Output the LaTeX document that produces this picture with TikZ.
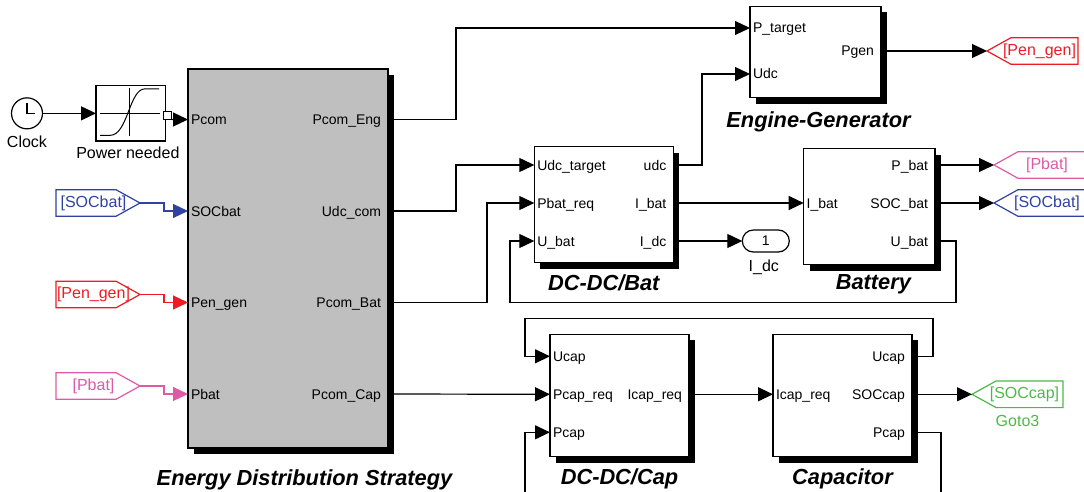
\documentclass[tikz,border=0pt]{standalone}
\usepackage{fontspec}
\setmainfont{Liberation Sans}
\usetikzlibrary{positioning,arrows.meta,shadows,shapes.symbols,shapes.misc}
\definecolor{tagblue}{HTML}{2F429F}
\definecolor{tagred}{HTML}{ED1C24}
\definecolor{tagpink}{HTML}{DC5AA6}
\definecolor{taggreen}{HTML}{4DB848}
\newcommand{\fromtext}[1]{\makebox[0pt]{\hspace*{15pt}#1}}
\newcommand{\gototext}[1]{\makebox[0pt]{#1\hspace*{10pt}}}
\tikzset{
	block/.style={draw,fill=white,line width=1.2pt,inner sep=0pt,outer sep=0pt,
		drop shadow={fill=black,opacity=1,shadow xshift=6pt,shadow yshift=-6pt}},
	portin/.style={inner sep=0pt,inner xsep=3pt,outer sep=0pt,text height=10pt,text depth=0pt,font=\fontsize{14}{16}\selectfont},
	portout/.style={portin,inner xsep=7pt},
	title/.style={inner sep=0pt,font=\fontsize{21.8}{24}\selectfont\bfseries\itshape},
	caption/.style={inner sep=0pt,font=\fontsize{16}{18}\selectfont},
	sig/.style={draw,line width=1.2pt,-{Triangle[length=15pt,width=14pt]}},
	fromtag/.style={signal,signal to=east,signal from=nowhere,signal pointer angle=58,draw,line width=1.2pt,
		inner sep=0pt,outer sep=0pt,minimum height=26.6pt,minimum width=84pt,font=\fontsize{16}{18}\selectfont},
	gototag/.style={fromtag,signal to=west},
}
\begin{document}
\begin{tikzpicture}[x=1pt,y=1pt]
	\clip (0,0) rectangle (1084,-492);
	\coordinate (origin) at (0,0);

	\node[block,fill=black!25,minimum width=200pt,minimum height=379pt,below right=69pt and 188pt of origin] (main) {};
	\node[block,minimum width=139pt,minimum height=116pt,below right=77.7pt and 146.3pt of main.north east] (dcbat) {};
	\node[block,minimum width=131pt,minimum height=91.5pt,below right=-140.4pt and 76.7pt of dcbat.north east] (engine) {};
	\node[block,minimum width=131.3pt,minimum height=116pt,below right=2pt and 130.4pt of dcbat.north east] (battery) {};
	\node[block,minimum width=139pt,minimum height=122.4pt,below right=71.6pt and 15.7pt of dcbat.south west] (dccap) {};
	\node[block,minimum width=139pt,minimum height=122.4pt,right=84pt of dccap] (capacitor) {};

	\node[draw,line width=1.2pt,inner sep=0pt,outer sep=0pt,minimum width=69.7pt,minimum height=55.3pt,below left=16.7pt and 22.3pt of main.north west] (power) {};
	\node[draw,fill=white,line width=1pt,inner sep=0pt,outer sep=0pt,minimum size=8pt,right=-2pt of power,yshift=-2.15pt] (powerout) {};
	\node[draw,circle,line width=1.2pt,inner sep=0pt,outer sep=0pt,minimum size=31pt,left=53.5pt of power] (clock) {};
	\draw[line width=1.2pt] ([yshift=10pt]clock.center) |- ([xshift=8pt]clock.center);
	\draw[line width=1pt] ([xshift=4pt]power.west) -- ([xshift=-6pt,yshift=0pt]power.east);
	\draw[line width=1pt] ([xshift=-1pt,yshift=-2pt]power.north) -- ([xshift=-1pt,yshift=4.5pt]power.south);
	\draw[line width=1pt] ([xshift=4pt,yshift=-22pt]power.west) -- ([xshift=14pt,yshift=-22pt]power.west) .. controls ([xshift=32pt,yshift=-22pt]power.west) and ([xshift=33pt,yshift=24.5pt]power.west) .. ([xshift=49pt,yshift=24.5pt]power.west) -- ([xshift=63pt,yshift=24.5pt]power.west);
	\node[caption,below=7pt of clock] (clocklabel) {Clock};
	\node[caption,below=5.5pt of power,xshift=-3pt] (powerlabel) {Power needed};

	\node[portin,right=0pt of main.north west,yshift=-50.5pt] (mainPcom) {Pcom};
	\node[portin,right=0pt of main.north west,yshift=-142pt] (mainSOCbat) {SOCbat};
	\node[portin,right=0pt of main.north west,yshift=-233.5pt] (mainPengen) {Pen\_gen};
	\node[portin,right=0pt of main.north west,yshift=-325pt] (mainPbat) {Pbat};
	\node[portout,left=0pt of main.north east,yshift=-50.5pt] (mainPcomEng) {Pcom\_Eng};
	\node[portout,left=0pt of main.north east,yshift=-142pt] (mainUdc) {Udc\_com};
	\node[portout,left=0pt of main.north east,yshift=-233.5pt] (mainPcomBat) {Pcom\_Bat};
	\node[portout,left=0pt of main.north east,yshift=-325pt] (mainPcomCap) {Pcom\_Cap};

	\node[portin,right=0pt of dcbat.north west,yshift=-18.3pt] (dcbatUdc) {Udc\_target};
	\node[portin,right=0pt of dcbat.north west,yshift=-56.3pt] (dcbatPbat) {Pbat\_req};
	\node[portin,right=0pt of dcbat.north west,yshift=-94.3pt] (dcbatUbat) {U\_bat};
	\node[portout,left=0pt of dcbat.north east,yshift=-18.3pt] (dcbatudc) {udc};
	\node[portout,left=0pt of dcbat.north east,yshift=-56.3pt] (dcbatIbat) {I\_bat};
	\node[portout,left=0pt of dcbat.north east,yshift=-94.3pt] (dcbatIdc) {I\_dc};

	\node[portin,right=0pt of engine.north west,yshift=-21.7pt] (engineP) {P\_target};
	\node[portin,right=0pt of engine.north west,yshift=-67.7pt] (engineUdc) {Udc};
	\node[portout,left=0pt of engine.north east,yshift=-44.7pt] (enginePgen) {Pgen};

	\node[portin,right=0pt of battery.north west,yshift=-54.3pt] (batteryI) {I\_bat};
	\node[portout,left=0pt of battery.north east,yshift=-16.3pt] (batteryP) {P\_bat};
	\node[portout,left=0pt of battery.north east,yshift=-54.3pt] (batterySOC) {SOC\_bat};
	\node[portout,left=0pt of battery.north east,yshift=-92.3pt] (batteryU) {U\_bat};

	\node[portin,right=0pt of dccap.north west,yshift=-22pt] (dccapUcap) {Ucap};
	\node[portin,right=0pt of dccap.north west,yshift=-60pt] (dccapPreq) {Pcap\_req};
	\node[portin,right=0pt of dccap.north west,yshift=-98pt] (dccapPcap) {Pcap};
	\node[portout,left=0pt of dccap.north east,yshift=-60pt] (dccapIreq) {Icap\_req};

	\node[portin,right=0pt of capacitor.north west,yshift=-60pt] (capIreq) {Icap\_req};
	\node[portout,left=0pt of capacitor.north east,yshift=-22pt] (capUcap) {Ucap};
	\node[portout,left=0pt of capacitor.north east,yshift=-60pt] (capSOC) {SOCcap};
	\node[portout,left=0pt of capacitor.north east,yshift=-98pt] (capPcap) {Pcap};

	\node[title,below=21pt of main,xshift=16.5pt] (maintitle) {Energy Distribution Strategy};
	\node[title,below=14pt of engine,xshift=3pt] (enginetitle) {Engine-Generator};
	\node[title,below=12pt of dcbat] (dcbattitle) {DC-DC/Bat};
	\node[title,below=10pt of battery,xshift=4pt] (batterytitle) {Battery};
	\node[title,below=12pt of dccap] (dccaptitle) {DC-DC/Cap};
	\node[title,below=12pt of capacitor] (captitle) {Capacitor};

	\node[fromtag,draw=tagblue,text=tagblue,left=48pt of mainSOCbat,yshift=8pt] (tagSOCbat) {\fromtext{[SOCbat]}};
	\node[fromtag,draw=tagred,text=tagred,left=48pt of mainPengen,yshift=8pt] (tagPengen) {\fromtext{[Pen\_gen]}};
	\node[fromtag,draw=tagpink,text=tagpink,left=48pt of mainPbat,yshift=8pt] (tagPbat) {\fromtext{[Pbat]}};
	\node[gototag,draw=tagred,text=tagred,minimum width=91pt,right=106pt of enginePgen] (gotoPengen) {\gototext{[Pen\_gen]}};
	\node[gototag,draw=tagpink,text=tagpink,minimum width=92pt,right=59pt of batteryP] (gotoPbat) {\gototext{[Pbat]}};
	\node[gototag,draw=tagblue,text=tagblue,minimum width=92pt,right=59pt of batterySOC] (gotoSOCbat) {\gototext{[SOCbat]}};
	\node[gototag,draw=taggreen,text=taggreen,minimum width=91pt,right=60pt of capSOC] (gotoSOCcap) {\gototext{[SOCcap]}};
	\node[caption,text=taggreen,below=8pt of gotoSOCcap,xshift=-12pt] (gotolabel) {Goto3};

	\node[draw,rounded rectangle,line width=1.2pt,inner sep=0pt,outer sep=0pt,minimum width=47pt,minimum height=22pt,font=\fontsize{14}{16}\selectfont,right=69pt of dcbatIdc] (outIdc) {1};
	\node[caption,below=8pt of outIdc,xshift=-2pt] (outlabel) {I\_dc};

	\coordinate (capFreeIn) at ([xshift=-25pt,yshift=-70pt]dccapPcap.west);
	\coordinate (capFreeOut) at ([xshift=29pt,yshift=-70pt]capPcap.east);

	\draw[sig] (clock) -- (power);
	\draw[sig] (powerout.south east) -- (mainPcom.west);
	\draw[sig,tagblue] (tagSOCbat.east) -- ++(24pt,0) |- (mainSOCbat.west);
	\draw[sig,tagred] (tagPengen.east) -- ++(24pt,0) |- (mainPengen.west);
	\draw[sig,tagpink] (tagPbat.east) -- ++(24pt,0) |- (mainPbat.west);

	\draw[sig] (mainPcomEng.east) -- ++(68pt,0) |- (engineP.west);
	\draw[sig] (mainUdc.east) -- ++(68pt,0) |- (dcbatUdc.west);
	\draw[sig] (mainPcomBat.east) -- ++(99pt,0) |- (dcbatPbat.west);
	\draw[sig] (mainPcomCap.east) -- (dccapPreq.west);

	\draw[sig] (dcbatudc.east) -- ++(28.7pt,0) |- (engineUdc.west);
	\draw[sig] (dcbatIbat.east) -- (batteryI.west);
	\draw[sig] (dcbatIdc.east) -- (outIdc.west);
	\draw[sig] (batteryU.east) -- ++(21pt,0) -- ++(0,-61.5pt) -- ++(-446pt,0) |- (dcbatUbat.west);
	\draw[sig] (enginePgen.east) -- (gotoPengen.west);
	\draw[sig] (batteryP.east) -- (gotoPbat.west);
	\draw[sig] (batterySOC.east) -- (gotoSOCbat.west);

	\draw[sig] (dccapIreq.east) -- (capIreq.west);
	\draw[sig] (capUcap.east) -- ++(21pt,0) -- ++(0,38pt) -- ++(-408pt,0) |- (dccapUcap.west);
	\draw[sig] (capSOC.east) -- (gotoSOCcap.west);
	\draw[line width=1.2pt] (capPcap.east) -| (capFreeOut);
	\draw[sig] (capFreeIn) |- (dccapPcap.west);
\end{tikzpicture}
\end{document}
